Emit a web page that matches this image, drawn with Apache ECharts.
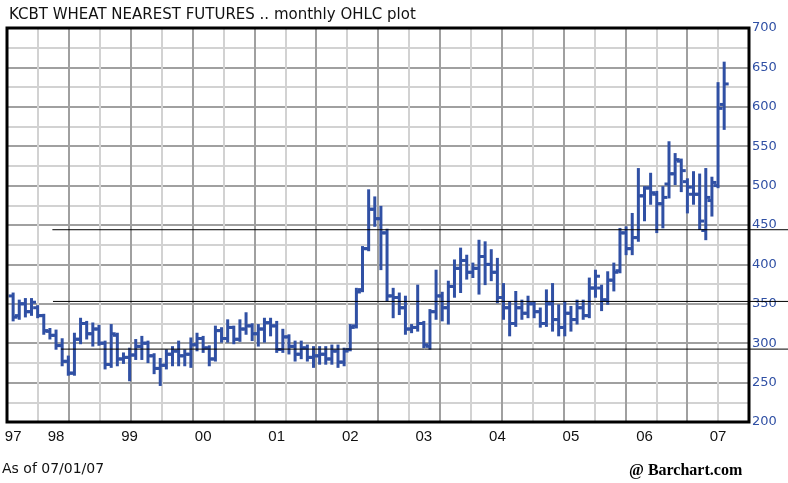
<!DOCTYPE html>
<html>
<head>
<meta charset="utf-8">
<script src="https://cdn.jsdelivr.net/npm/echarts@6/dist/echarts.min.js"></script>
<style>
  html, body { margin: 0; padding: 0; background: #fff; }
  #k { width: 788px; height: 483px; }
</style>
</head>
<body>
<div id="k"></div>
<script>
// monthly bars, index 0 = first month on the chart
var openP = [360, 335, 350, 340, 345, 335, 315, 310, 297, 277, 262, 305, 325, 312, 318, 300, 273, 310, 280, 282,
  285, 296, 300, 284, 268, 272, 286, 290, 284, 286, 298, 306, 294, 280, 316, 306, 320, 305, 318, 322,
  312, 318, 326, 322, 292, 308, 296, 286, 294, 282, 284, 286, 280, 290, 276, 292, 322, 368, 420, 470,
  458, 440, 360, 358, 345, 318, 320, 325, 296, 340, 360, 345, 372, 395, 405, 390, 395, 410, 400, 390,
  358, 345, 325, 345, 338, 350, 340, 325, 350, 330, 320, 338, 330, 345, 335, 370, 370, 355, 380, 392,
  440, 420, 434, 487, 497, 489, 477, 502, 515, 531, 505, 489, 489, 443, 481, 500, 603];
var highP = [363, 354, 356, 356, 347, 336, 318, 316, 305, 283, 312, 331, 327, 325, 322, 302, 323, 312, 287, 293,
  304, 308, 302, 286, 280, 291, 295, 302, 291, 306, 312, 308, 296, 321, 319, 329, 321, 329, 338, 324,
  323, 331, 331, 327, 317, 310, 302, 302, 297, 295, 295, 295, 297, 297, 293, 323, 369, 422, 494, 485,
  473, 444, 369, 363, 359, 323, 373, 327, 342, 392, 364, 378, 405, 420, 411, 401, 430, 428, 418, 407,
  375, 352, 365, 354, 359, 352, 344, 367, 375, 348, 352, 346, 354, 354, 382, 392, 373, 390, 401, 445,
  447, 464, 521, 498, 515, 492, 498, 555, 540, 533, 508, 517, 514, 521, 510, 630, 656];
var lowP = [329, 331, 334, 336, 333, 312, 306, 293, 272, 260, 260, 300, 306, 297, 298, 268, 270, 272, 275, 253,
  280, 280, 276, 262, 247, 268, 272, 272, 272, 270, 291, 289, 272, 278, 302, 302, 300, 303, 312, 304,
  297, 302, 310, 289, 289, 287, 278, 281, 278, 270, 274, 274, 274, 270, 272, 291, 320, 366, 418, 449,
  394, 354, 333, 337, 312, 314, 316, 295, 293, 331, 329, 325, 359, 365, 382, 384, 363, 375, 380, 352,
  331, 310, 322, 331, 333, 333, 321, 322, 316, 310, 310, 316, 325, 331, 333, 359, 342, 350, 367, 390,
  413, 413, 430, 456, 477, 441, 447, 485, 502, 493, 466, 477, 445, 432, 462, 498, 572];
var closeP = [333, 350, 340, 352, 335, 316, 310, 297, 277, 262, 305, 325, 312, 318, 300, 273, 312, 280, 282, 285,
  296, 300, 284, 268, 272, 286, 290, 284, 286, 298, 306, 294, 280, 316, 306, 320, 305, 318, 322, 312,
  318, 326, 322, 292, 308, 296, 286, 294, 282, 284, 286, 280, 290, 276, 290, 320, 365, 420, 470, 458,
  440, 360, 358, 345, 318, 320, 325, 298, 340, 360, 345, 372, 395, 405, 390, 395, 410, 400, 390, 358,
  345, 325, 345, 338, 350, 340, 325, 350, 330, 320, 338, 330, 345, 335, 370, 385, 355, 380, 390, 440,
  420, 434, 487, 497, 491, 477, 485, 515, 533, 519, 498, 489, 455, 485, 504, 598, 629];

// year labels and the month index they sit under
var yearLabels = ['97', '98', '99', '00', '01', '02', '03', '04', '05', '06', '07'];
var yearLabelAt = [0, 7, 19, 31, 43, 55, 67, 79, 91, 103, 115];
var priceLabels = [200, 250, 300, 350, 400, 450, 500, 550, 600, 650, 700];

// hand drawn horizontal lines: price level and month index where each starts
var trendLevels = [444, 353, 292.5];
var trendFrom = [6.4, 6.5, 7.8];

var barColor = '#3050a4';

var bars = [];
for (var i = 0; i < openP.length; i++) {
  bars.push([i, openP[i], highP[i], lowP[i], closeP[i]]);
}

function renderOhlc(params, api) {
  var x = api.value(0);
  var pO = api.coord([x, api.value(1)]);
  var pH = api.coord([x, api.value(2)]);
  var pL = api.coord([x, api.value(3)]);
  var pC = api.coord([x, api.value(4)]);
  var st = { stroke: barColor, lineWidth: 3 };
  return {
    type: 'group',
    children: [
      { type: 'line', shape: { x1: pH[0], y1: pH[1] - 1, x2: pL[0], y2: pL[1] + 1 }, style: st },
      { type: 'line', shape: { x1: pO[0] - 4.5, y1: pO[1], x2: pO[0], y2: pO[1] }, style: st },
      { type: 'line', shape: { x1: pC[0], y1: pC[1], x2: pC[0] + 4.5, y2: pC[1] }, style: st }
    ]
  };
}

var trendSeries = [];
for (var t = 0; t < trendLevels.length; t++) {
  trendSeries.push({
    type: 'line',
    xAxisIndex: 2,
    yAxisIndex: 1,
    data: [[trendFrom[t], trendLevels[t]], [126.4, trendLevels[t]]],
    symbol: 'none',
    silent: true,
    lineStyle: { color: '#000', width: 1 }
  });
}

var gridColors = ['#a0a0a0', '#d2d2d2'];

var option = {
  animation: false,
  backgroundColor: '#fff',
  title: [
    {
      text: 'KCBT WHEAT NEAREST FUTURES .. monthly OHLC plot',
      left: 9, top: 8, padding: 0,
      textStyle: { fontFamily: 'DejaVu Sans', fontSize: 15, fontWeight: 'normal', color: '#111' }
    },
    {
      text: 'As of 07/01/07',
      left: 2, top: 462, padding: 0,
      textStyle: { fontFamily: 'DejaVu Sans', fontSize: 14, fontWeight: 'normal', color: '#111' }
    },
    {
      text: '@ Barchart.com',
      left: 629, top: 463, padding: 0,
      textStyle: { fontFamily: 'Liberation Serif', fontSize: 16, fontWeight: 'bold', color: '#000' }
    }
  ],
  grid: [
    { left: 7, right: 39, top: 28, bottom: 61, show: true, borderColor: '#000', borderWidth: 3, z: 10 },
    { left: 7, right: 0, top: 28, bottom: 61, show: false }
  ],
  xAxis: [
    {
      type: 'value', gridIndex: 0, min: -1, max: 120.05,
      axisLine: { show: false }, axisTick: { show: false }, splitLine: { show: false },
      axisLabel: {
        customValues: yearLabelAt,
        formatter: function (v) { return yearLabels[yearLabelAt.indexOf(v)]; },
        margin: 7,
        fontFamily: 'Liberation Sans Narrow, Liberation Sans',
        fontSize: 15,
        color: '#111'
      }
    },
    {
      type: 'value', gridIndex: 0, position: 'top', min: 0, max: 24, interval: 1,
      axisLine: { show: false }, axisTick: { show: false }, axisLabel: { show: false },
      splitLine: { show: true, lineStyle: { color: gridColors, width: 2 } }
    },
    { type: 'value', gridIndex: 1, min: -1, max: 126.4, show: false }
  ],
  yAxis: [
    {
      type: 'value', gridIndex: 0, position: 'right', min: 200, max: 700, interval: 25,
      axisLine: { show: false }, axisTick: { show: false },
      splitLine: { show: true, lineStyle: { color: gridColors, width: 2 } },
      axisLabel: {
        customValues: priceLabels,
        showMinLabel: true, showMaxLabel: true,
        margin: 3,
        fontFamily: 'DejaVu Sans',
        fontSize: 13,
        color: barColor
      }
    },
    { type: 'value', gridIndex: 1, min: 200, max: 700, show: false }
  ],
  series: [
    {
      type: 'custom',
      xAxisIndex: 0,
      yAxisIndex: 0,
      renderItem: renderOhlc,
      encode: { x: 0, y: [1, 2, 3, 4] },
      data: bars
    }
  ].concat(trendSeries)
};

var myChart = echarts.init(document.getElementById('k'));
myChart.setOption(option);
</script>
</body>
</html>
